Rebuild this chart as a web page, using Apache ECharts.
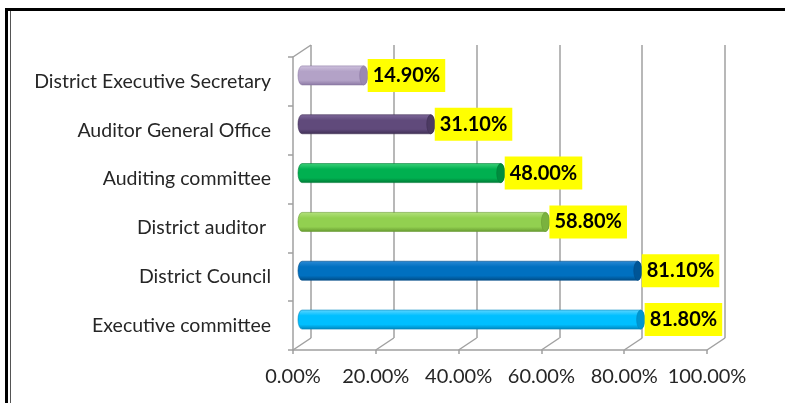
<!DOCTYPE html>
<html>
<head>
<meta charset="utf-8">
<script src="https://cdn.jsdelivr.net/npm/echarts@6/dist/echarts.min.js"></script>
<style>
  html, body { margin: 0; padding: 0; background: #ffffff; }
  #chart { width: 785px; height: 403px; }
</style>
</head>
<body>
<div id="chart"></div>
<script>
// Categories, bottom to top
const categories = [
  'Executive committee',
  'District Council',
  'District auditor ',
  'Auditing committee',
  'Auditor General Office',
  'District Executive Secretary'
];
// Share of respondents (%)
const values = [81.8, 81.1, 58.8, 48.0, 31.1, 14.9];
// Value-axis ticks (%)
const xTicks = [0, 20, 40, 60, 80, 100];

// Cylinder shading per bar: [highlight, body, shadow, end cap]
const barShades = [
  ['#5FD6FF', '#00BFFF', '#0086BE', '#0096D0'],
  ['#2B8AD6', '#0070C0', '#004C86', '#005596'],
  ['#B4E27E', '#92D050', '#679A30', '#7AB23E'],
  ['#3DD27A', '#00B050', '#007A36', '#008C3E'],
  ['#7E689A', '#604A7B', '#3F2F54', '#4C3A62'],
  ['#CFC2DE', '#B3A2C7', '#8B78A3', '#9A88B2']
];

const FONT = 'Lato, "Open Sans", "DejaVu Sans", sans-serif';
const AXIS_GRAY = '#A0A0A0';
const DEPTH_X = 18, DEPTH_Y = -12;   // back wall offset from the front plane

const chart = echarts.init(document.getElementById('chart'), null, { renderer: 'canvas' });

// Horizontal cylinder with a flat elliptical end cap
function renderCylinder(params, api) {
  const idx = api.value(1);
  const start = api.coord([0, idx]);
  const end = api.coord([api.value(0), idx]);
  const band = api.size([0, 1])[1];
  const h = band * 0.39;
  const rx = 4, ry = h / 2;
  const dx = DEPTH_X / 2, dy = DEPTH_Y / 2;
  const cy = start[1] + dy;
  const x0 = start[0] + dx, x1 = end[0] + dx;
  const top = cy - ry, bot = cy + ry;
  const shade = barShades[idx];
  const body = 'M' + x0 + ' ' + top + ' L' + x1 + ' ' + top +
    ' A' + rx + ' ' + ry + ' 0 0 1 ' + x1 + ' ' + bot +
    ' L' + x0 + ' ' + bot +
    ' A' + rx + ' ' + ry + ' 0 0 1 ' + x0 + ' ' + top + ' Z';
  const cap = 'M' + x1 + ' ' + top +
    ' A' + rx + ' ' + ry + ' 0 0 1 ' + x1 + ' ' + bot +
    ' A' + rx + ' ' + ry + ' 0 0 1 ' + x1 + ' ' + top + ' Z';
  const grad = new echarts.graphic.LinearGradient(0, 0, 0, 1, [
    { offset: 0, color: shade[0] },
    { offset: 0.3, color: shade[1] },
    { offset: 0.75, color: shade[1] },
    { offset: 1, color: shade[2] }
  ]);
  const label = api.value(0).toFixed(2) + '%';
  return {
    type: 'group',
    children: [
      {
        type: 'path',
        shape: { pathData: body, layout: 'cover', x: x0 - rx, y: top, width: x1 - x0 + 2 * rx, height: h },
        style: { fill: grad, stroke: shade[2], lineWidth: 0.6 }
      },
      {
        type: 'path',
        shape: { pathData: cap, layout: 'cover', x: x1 - rx, y: top, width: 2 * rx, height: h },
        style: { fill: shade[3], stroke: shade[2], lineWidth: 0.6 }
      },
      {
        type: 'text',
        x: x1 + rx,
        y: cy,
        style: {
          text: label,
          font: 'bold 20px ' + FONT,
          fill: '#000000',
          align: 'left',
          verticalAlign: 'middle',
          backgroundColor: '#FFFF00',
          padding: [7, 5, 6, 5]
        }
      }
    ]
  };
}

// Floor diagonals at each value tick, plus the top-left wall edge
function renderDepthEdges(params, api) {
  const cs = params.coordSys;
  const p = api.coord([api.value(0), 0]);
  const x = p[0];
  const bottom = cs.y + cs.height;
  const lines = [{
    type: 'line',
    shape: { x1: x, y1: bottom, x2: x + DEPTH_X, y2: bottom + DEPTH_Y },
    style: { stroke: AXIS_GRAY, lineWidth: 1.5 }
  }];
  if (api.value(0) === xTicks[0]) {
    lines.push({
      type: 'line',
      shape: { x1: x, y1: cs.y, x2: x + DEPTH_X, y2: cs.y + DEPTH_Y },
      style: { stroke: AXIS_GRAY, lineWidth: 1.5 }
    });
  }
  return { type: 'group', children: lines };
}

const option = {
  animation: false,
  backgroundColor: '#ffffff',
  grid: [
    { left: 293, top: 57, width: 414, height: 293 },                         // front plane
    { left: 293 + DEPTH_X, top: 57 + DEPTH_Y, width: 414, height: 293 }      // back wall
  ],
  xAxis: [
    {
      gridIndex: 0, type: 'value', min: xTicks[0], max: xTicks[xTicks.length - 1], interval: 20,
      axisLine: { show: true, lineStyle: { color: AXIS_GRAY, width: 1.5 } },
      axisTick: { show: true, length: 4, lineStyle: { color: AXIS_GRAY, width: 1.5 } },
      axisLabel: {
        margin: 17, color: '#262626', fontFamily: FONT, fontSize: 20,
        formatter: v => v.toFixed(2) + '%'
      },
      splitLine: { show: false }
    },
    {
      gridIndex: 1, type: 'value', min: xTicks[0], max: xTicks[xTicks.length - 1], interval: 20,
      axisLine: { show: false }, axisTick: { show: false }, axisLabel: { show: false },
      splitLine: { show: true, lineStyle: { color: AXIS_GRAY, width: 1.5 } }
    }
  ],
  yAxis: [
    {
      gridIndex: 0, type: 'category', data: categories,
      axisLine: { show: true, lineStyle: { color: AXIS_GRAY, width: 1.5 } },
      axisTick: { show: true, length: 5, lineStyle: { color: AXIS_GRAY, width: 1.5 } },
      axisLabel: { margin: 22, color: '#262626', fontFamily: FONT, fontSize: 19.5 },
      splitLine: { show: false }
    },
    { gridIndex: 1, type: 'category', data: categories, show: false }
  ],
  graphic: [
    // page frame: heavy top rule and double left rule
    { type: 'rect', shape: { x: 5, y: 8, width: 780, height: 3 }, style: { fill: '#000' }, z: 100 },
    { type: 'rect', shape: { x: 5, y: 8, width: 3, height: 395 }, style: { fill: '#000' }, z: 100 },
    { type: 'rect', shape: { x: 10, y: 11, width: 1, height: 392 }, style: { fill: '#555' }, z: 100 }
  ],
  series: [
    {
      type: 'custom', xAxisIndex: 0, yAxisIndex: 0,
      data: xTicks.map(v => [v, 0]),
      encode: { x: 0, y: 1 },
      renderItem: renderDepthEdges,
      silent: true, z: 1
    },
    {
      type: 'custom', xAxisIndex: 0, yAxisIndex: 0,
      data: values.map((v, i) => [v, i]),
      encode: { x: 0, y: 1 },
      renderItem: renderCylinder,
      z: 5
    }
  ]
};

chart.setOption(option);
</script>
</body>
</html>
